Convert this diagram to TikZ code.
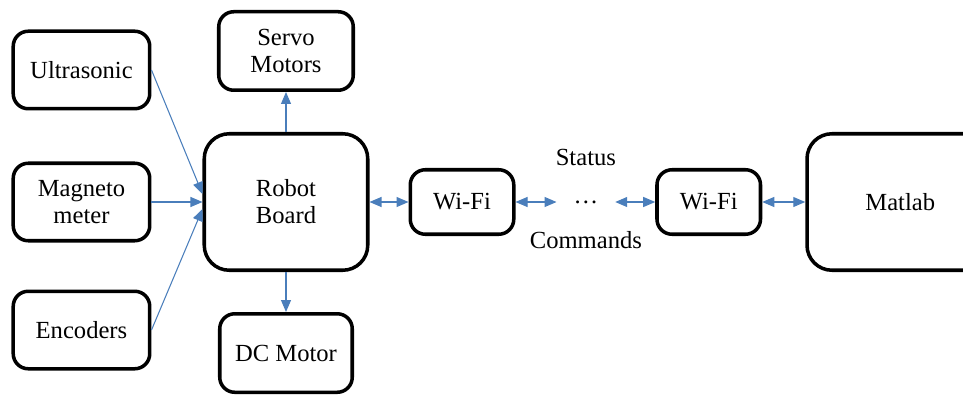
\documentclass[tikz,border=0pt]{standalone}
\usepackage{fontspec}
\setmainfont{Liberation Serif}
\usepackage{tikz}
\usepackage{xcolor}
\usetikzlibrary{arrows.meta,positioning,calc}
\definecolor{linkblue}{HTML}{4A7EBB}
\tikzset{
  unitBox/.style={draw=black, line width=2pt, rounded corners=0.3cm, align=center, fill=white,
    font=\fontsize{14}{15.4}\selectfont},
  hubBox/.style={unitBox, rounded corners=0.5cm, minimum width=3.27cm, minimum height=2.73cm},
  linkArrow/.style={-{Triangle[length=0.24cm,width=0.2cm]}, line width=0.6pt, draw=linkblue},
  duplexArrow/.style={{Triangle[length=0.24cm,width=0.2cm]}-{Triangle[length=0.24cm,width=0.2cm]}, line width=0.6pt, draw=linkblue},
  tagLabel/.style={font=\fontsize{14}{15.4}\selectfont, inner sep=0pt}
}
\begin{document}
\begin{tikzpicture}
  \useasboundingbox (0,0) rectangle (19.26,-7.88);
  \node[hubBox] (board) at (5.72,-4.04) {Robot\\ Board};
  \node[unitBox, minimum width=2.69cm, minimum height=1.57cm, above=0.8cm of board] (servo) {Servo\\ Motors};
  \node[unitBox, minimum width=2.65cm, minimum height=1.57cm, below=0.8cm of board] (dc) {DC Motor};
  \node[unitBox, minimum width=2.73cm, minimum height=1.55cm, left=1.02cm of board] (magneto) {Magneto\\ meter};
  \node[unitBox, minimum width=2.73cm, minimum height=1.55cm, above=1.02cm of magneto] (ultra) {Ultrasonic};
  \node[unitBox, minimum width=2.73cm, minimum height=1.55cm, below=0.94cm of magneto] (enc) {Encoders};
  \node[unitBox, minimum width=2.07cm, minimum height=1.29cm, right=0.78cm of board] (wifiA) {Wi-Fi};
  \node[tagLabel, minimum width=1.16cm, right=0.82cm of wifiA] (dots) {\dots};
  \node[unitBox, minimum width=2.07cm, minimum height=1.29cm, right=0.8cm of dots] (wifiB) {Wi-Fi};
  \node[hubBox, minimum width=3.73cm, right=0.86cm of wifiB] (matlab) {Matlab};
  \node[tagLabel] (status) at ([yshift=0.9cm]dots.center) {Status};
  \node[tagLabel] (cmds) at ([yshift=-0.76cm]dots.center) {Commands};
  % sensors into the board
  \draw[linkArrow] (ultra.east) -- ([yshift=0.16cm]board.west);
  \draw[linkArrow] (magneto.east) -- (board.west);
  \draw[linkArrow] (enc.east) -- ([yshift=-0.14cm]board.west);
  \draw[linkArrow] (board) -- (servo);
  \draw[linkArrow] (board) -- (dc);
  % radio link
  \foreach \a/\b in {board/wifiA,wifiA/dots,dots/wifiB,wifiB/matlab} \draw[duplexArrow] (\a) -- (\b);
\end{tikzpicture}
\end{document}
